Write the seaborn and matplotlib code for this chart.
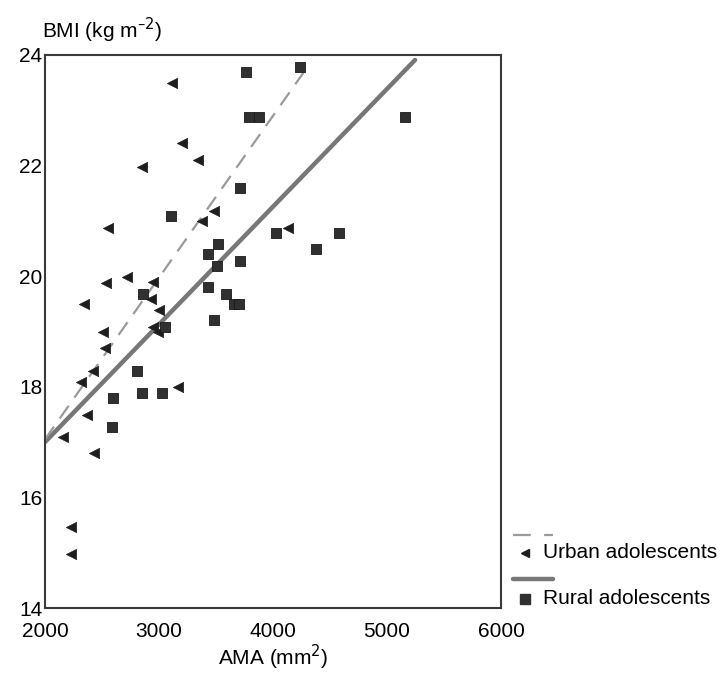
import matplotlib
matplotlib.use("Agg")
import matplotlib.pyplot as plt
import seaborn as sns
import pandas as pd
from matplotlib.lines import Line2D

sns.set_theme(style="white")
plt.rcParams['font.family'] = ['Liberation Sans', 'DejaVu Sans']
plt.rcParams['text.color'] = 'black'
plt.rcParams['xtick.color'] = 'black'
plt.rcParams['ytick.color'] = 'black'

# Urban adolescents (triangles)
urban_ama = [3111, 3199, 3339, 2854, 3480, 3377, 2556, 4132, 2722, 2535, 2944,
             2342, 2930, 2997, 2944, 2509, 2994, 2526, 2424, 2316, 3164, 2366,
             2161, 2433, 2225, 2225]
urban_bmi = [23.49, 22.40, 22.10, 21.98, 21.18, 21.00, 20.87, 20.88, 19.98, 19.88, 19.89,
             19.50, 19.59, 19.38, 19.09, 18.99, 18.99, 18.70, 18.29, 18.09, 18.00, 17.49,
             17.10, 16.80, 15.47, 14.97]

# Rural adolescents (dark squares)
rural_ama = [3763, 4237, 3789, 3877, 3711, 3102, 4026, 4579, 4377, 3520, 3430,
             3506, 3711, 3430, 2857, 3588, 3661, 3705, 3482, 3053, 5158, 2804,
             2599, 2848, 3023, 2591]
rural_bmi = [23.70, 23.79, 22.88, 22.88, 21.60, 21.09, 20.79, 20.79, 20.49, 20.58, 20.40,
             20.19, 20.28, 19.81, 19.68, 19.68, 19.50, 19.50, 19.20, 19.09, 22.88, 18.29,
             17.79, 17.88, 17.88, 17.28]

# Regression lines (endpoints)
urban_fit_ama = [2000, 4325]
urban_fit_bmi = [17.05, 23.85]
rural_fit_ama = [2000, 5246]
rural_fit_bmi = [17.0, 23.91]

x_ticks = [2000, 3000, 4000, 5000, 6000]
y_ticks = [14, 16, 18, 20, 22, 24]

urban_df = pd.DataFrame({"AMA": urban_ama, "BMI": urban_bmi})
rural_df = pd.DataFrame({"AMA": rural_ama, "BMI": rural_bmi})
urban_fit = pd.DataFrame({"AMA": urban_fit_ama, "BMI": urban_fit_bmi})
rural_fit = pd.DataFrame({"AMA": rural_fit_ama, "BMI": rural_fit_bmi})

fig = plt.figure(figsize=(7.2, 6.75), dpi=100)
ax = fig.add_axes([45/720, 1-608/675, (501-45)/720, (608-55)/675])

line_dark = "#777777"
line_light = "#9a9a9a"
mark_col = "#1e1e1e"

sns.lineplot(data=rural_fit, x="AMA", y="BMI", ax=ax, color=line_dark, lw=3.2, zorder=2)
sns.lineplot(data=urban_fit, x="AMA", y="BMI", ax=ax, color=line_light, lw=1.6,
             dashes=False, zorder=2).lines[-1].set_dashes([7, 4.5])
sns.scatterplot(data=urban_df, x="AMA", y="BMI", ax=ax, marker="<", s=55,
                color=mark_col, edgecolor=mark_col, linewidth=0.5, zorder=3)
sns.scatterplot(data=rural_df, x="AMA", y="BMI", ax=ax, marker="s", s=48,
                color="#303030", edgecolor="#1a1a1a", linewidth=0.6, zorder=3)

ax.set_xlim(2000, 6000)
ax.set_ylim(14, 24)
ax.set_xticks(x_ticks)
ax.set_yticks(y_ticks)
ax.set_xticklabels([str(v) for v in x_ticks])
ax.set_yticklabels([str(v) for v in y_ticks])
ax.tick_params(axis="x", length=2, width=1.5, color="#444444", labelsize=15, pad=8,
               direction="out", labelcolor="black")
ax.tick_params(axis="y", length=0, labelsize=15, pad=2, labelcolor="black")
for s in ax.spines.values():
    s.set_visible(True)
    s.set_color("#3a3a3a")
    s.set_linewidth(1.5)
ax.set_xlabel("")
ax.set_ylabel("")

fig.text(273/720, 1-657/675, "AMA (mm$^{2}$)", ha="center", va="center", fontsize=15, color="black")
fig.text(42/720, 1-30/675, "BMI (kg m$^{\u2013 2}$)", ha="left", va="center", fontsize=15, color="black")

# Legend (drawn in figure coordinates)
def fx(px):
    return px/720
def fy(py):
    return 1 - py/675

fig.add_artist(Line2D([fx(513), fx(553)], [fy(535), fy(535)], color=line_light, lw=1.6,
                      dashes=[8, 6], transform=fig.transFigure))
fig.add_artist(Line2D([fx(525)], [fy(553)], marker="<", ms=6, color=mark_col, lw=0,
                      transform=fig.transFigure))
fig.text(fx(543), fy(553), "Urban adolescents", ha="left", va="center", fontsize=15, color="black")
fig.add_artist(Line2D([fx(513), fx(553)], [fy(579), fy(579)], color=line_dark, lw=3.2,
                      transform=fig.transFigure))
fig.add_artist(Line2D([fx(525)], [fy(599)], marker="s", ms=6.5, color="#303030", lw=0,
                      transform=fig.transFigure))
fig.text(fx(543), fy(599), "Rural adolescents", ha="left", va="center", fontsize=15, color="black")

fig.savefig("out.png", dpi=100)
